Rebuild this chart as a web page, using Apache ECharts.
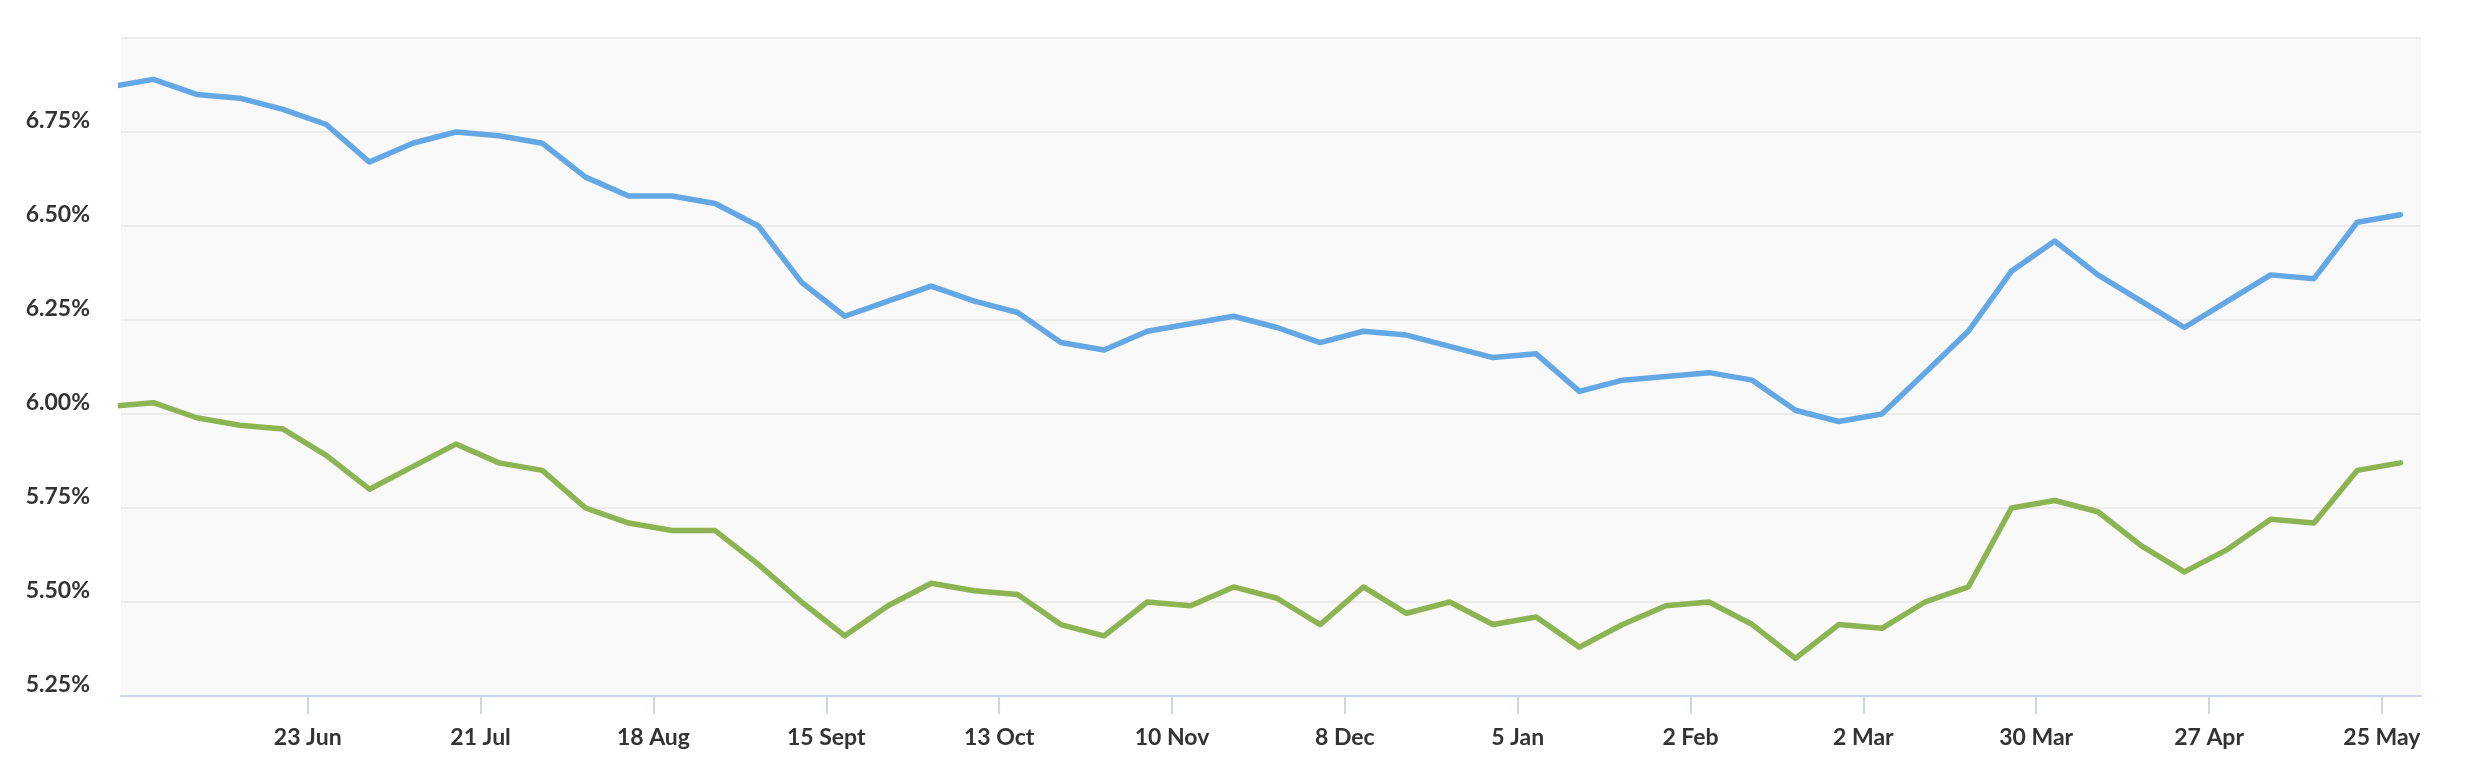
<!DOCTYPE html>
<html>
<head>
<meta charset="utf-8">
<script src="https://cdn.jsdelivr.net/npm/echarts@6/dist/echarts.min.js"></script>
<style>
html,body{margin:0;padding:0;background:#ffffff;}
#chart{width:2478px;height:782px;}
</style>
</head>
<body>
<div id="chart"></div>
<script>
const weekDates = [
  '2024-05-22','2024-05-29','2024-06-05','2024-06-12','2024-06-19','2024-06-26',
  '2024-07-03','2024-07-10','2024-07-17','2024-07-24','2024-07-31','2024-08-07',
  '2024-08-14','2024-08-21','2024-08-28','2024-09-04','2024-09-11','2024-09-18',
  '2024-09-25','2024-10-02','2024-10-09','2024-10-16','2024-10-23','2024-10-30',
  '2024-11-06','2024-11-13','2024-11-20','2024-11-27','2024-12-04','2024-12-11',
  '2024-12-18','2024-12-25','2025-01-01','2025-01-08','2025-01-15','2025-01-22',
  '2025-01-29','2025-02-05','2025-02-12','2025-02-19','2025-02-26','2025-03-05',
  '2025-03-12','2025-03-19','2025-03-26','2025-04-02','2025-04-09','2025-04-16',
  '2025-04-23','2025-04-30','2025-05-07','2025-05-14','2025-05-21','2025-05-28'
];
const blueRates = [
  6.87,6.89,6.85,6.84,6.81,6.77,
  6.67,6.72,6.75,6.74,6.72,6.63,
  6.58,6.58,6.56,6.50,6.35,6.26,
  6.30,6.34,6.30,6.27,6.19,6.17,
  6.22,6.24,6.26,6.23,6.19,6.22,
  6.21,6.18,6.15,6.16,6.06,6.09,
  6.10,6.11,6.09,6.01,5.98,6.00,
  6.11,6.22,6.38,6.46,6.37,6.30,
  6.23,6.30,6.37,6.36,6.51,6.53
];
const greenRates = [
  6.02,6.03,5.99,5.97,5.96,5.89,
  5.80,5.86,5.92,5.87,5.85,5.75,
  5.71,5.69,5.69,5.60,5.50,5.41,
  5.49,5.55,5.53,5.52,5.44,5.41,
  5.50,5.49,5.54,5.51,5.44,5.54,
  5.47,5.50,5.44,5.46,5.38,5.44,
  5.49,5.50,5.44,5.35,5.44,5.43,
  5.50,5.54,5.75,5.77,5.74,5.65,
  5.58,5.64,5.72,5.71,5.85,5.87
];
const tickDates = ['2024-06-23','2024-07-21','2024-08-18','2024-09-15','2024-10-13','2024-11-10',
  '2024-12-08','2025-01-05','2025-02-02','2025-03-02','2025-03-30','2025-04-27','2025-05-25'];
const tickLabels = ['23 Jun','21 Jul','18 Aug','15 Sept','13 Oct','10 Nov',
  '8 Dec','5 Jan','2 Feb','2 Mar','30 Mar','27 Apr','25 May'];
const xRangeStart = '2024-05-23T18:00:00Z';
const xRangeEnd = '2025-05-31T08:00:00Z';

function ts(s){ return new Date(s.length === 10 ? s + 'T00:00:00Z' : s).getTime(); }
const tickTs = tickDates.map(ts);

const chart = echarts.init(document.getElementById('chart'), null, {renderer:'canvas'});
const labelFont = {fontFamily:'Lato, "Open Sans", sans-serif', fontWeight:700, fontSize:23, color:'#333333'};

chart.setOption({
  animation:false,
  backgroundColor:'#ffffff',
  grid:{left:121, right:57, top:38, bottom:86, show:true, backgroundColor:'#f9f9f9', borderWidth:0},
  xAxis:{
    type:'value',
    min:ts(xRangeStart), max:ts(xRangeEnd),
    axisLine:{show:true, lineStyle:{color:'#ccd6eb', width:2}},
    axisTick:{show:true, length:18, lineStyle:{color:'#ccd6eb', width:2}, customValues:tickTs},
    splitLine:{show:false},
    axisLabel:Object.assign({
      margin:30, lineHeight:23,
      customValues:tickTs,
      formatter:function(v){ const i = tickTs.indexOf(v); return i >= 0 ? tickLabels[i] : ''; }
    }, labelFont)
  },
  yAxis:{
    type:'value', min:5.25, max:7.0, interval:0.25,
    axisLine:{show:false}, axisTick:{show:false},
    splitLine:{show:true, lineStyle:{color:'#e6e6e6', width:1.5}},
    axisLabel:Object.assign({
      margin:31, lineHeight:23, verticalAlign:'bottom',
      formatter:function(v){ return Math.abs(v-7) < 1e-9 ? '' : v.toFixed(2) + '%'; }
    }, labelFont)
  },
  series:[
    {type:'line', name:'blue', showSymbol:false, clip:true,
     data:weekDates.map((d,i)=>[ts(d), blueRates[i]]),
     lineStyle:{color:'#63a8e5', width:5.5, cap:'round', join:'round'}, itemStyle:{color:'#63a8e5'}},
    {type:'line', name:'green', showSymbol:false, clip:true,
     data:weekDates.map((d,i)=>[ts(d), greenRates[i]]),
     lineStyle:{color:'#8db453', width:5.5, cap:'round', join:'round'}, itemStyle:{color:'#8db453'}}
  ]
});
</script>
</body>
</html>
